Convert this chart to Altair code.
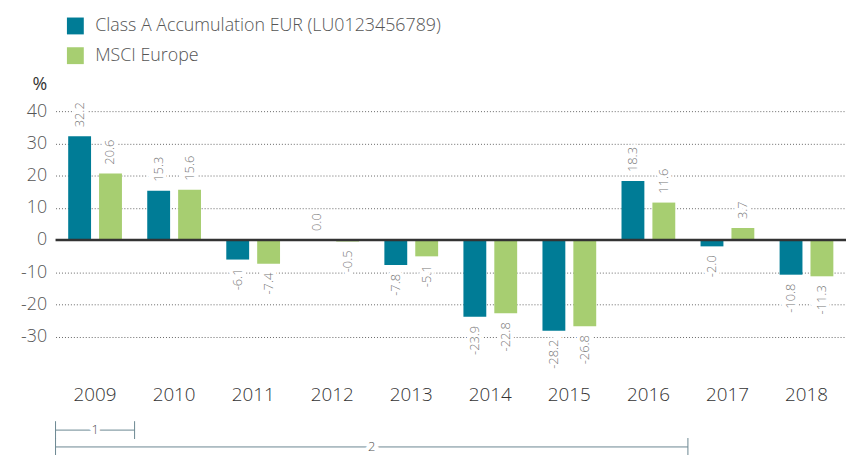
import altair as alt
import pandas as pd

FONT = "Open Sans"

years = ["2009", "2010", "2011", "2012", "2013", "2014", "2015", "2016", "2017", "2018"]
fund_name = "Class A Accumulation EUR (LU0123456789)"
index_name = "MSCI Europe"
fund_values = [32.2, 15.3, -6.1, 0.0, -7.8, -23.9, -28.2, 18.3, -2.0, -10.8]
index_values = [20.6, 15.6, -7.4, -0.5, -5.1, -22.8, -26.8, 11.6, 3.7, -11.3]
y_ticks = [-30, -20, -10, 0, 10, 20, 30, 40]

bracket_labels = ["1", "2"]
bracket_start = ["2009", "2009"]
bracket_end = ["2009", "2016"]

rows = []
for yr, f, i in zip(years, fund_values, index_values):
    rows.append({"year": yr, "series": fund_name, "value": f, "lbl": f"{f:.1f}"})
    rows.append({"year": yr, "series": index_name, "value": i, "lbl": f"{i:.1f}"})
df = pd.DataFrame(rows)

br = pd.DataFrame({"label": bracket_labels, "start": bracket_start, "end": bracket_end})

series_order = [fund_name, index_name]

x_enc = alt.X(
    "year:N",
    sort=years,
    scale=alt.Scale(domain=years, paddingInner=0.32, paddingOuter=0.16),
    axis=alt.Axis(
        title=None, labelAngle=0, domain=False, ticks=False, grid=False,
        labelFontSize=19, labelColor="#333", labelPadding=17, labelFont=FONT, labelFontWeight=300,
    ),
)
xoff_enc = alt.XOffset("series:N", sort=series_order,
                       scale=alt.Scale(domain=series_order, paddingInner=0.26, paddingOuter=0))
y_enc = alt.Y(
    "value:Q",
    scale=alt.Scale(domain=[-40, 40], nice=False),
    axis=alt.Axis(
        values=y_ticks, title="%", titleAngle=0, titleAlign="right", titleBaseline="middle",
        titleX=-9, titleY=-27, titleFontSize=18, titleFontWeight="normal", titleColor="#333",
        titleFont=FONT, domain=False, ticks=False, labelFontSize=18, labelColor="#555",
        labelFont=FONT, labelFontWeight=300, labelPadding=9, labelOverlap=False,
        labelExpr="toString(datum.value)",
        grid=True, gridColor="#666", gridDash=[1, 2], gridWidth=1, gridOpacity=1,
    ),
)

base = alt.Chart(df)

bars = base.mark_bar().encode(
    x=x_enc,
    xOffset=xoff_enc,
    y=y_enc,
    color=alt.Color(
        "series:N",
        sort=series_order,
        scale=alt.Scale(domain=series_order, range=["#007C96", "#A7CE71"]),
        legend=alt.Legend(
            title=None, orient="none", legendX=11, legendY=-95, symbolType="square",
            symbolSize=290, symbolStrokeWidth=0, symbolOpacity=1, labelFontSize=18,
            labelColor="#555", labelFont=FONT, labelFontWeight=300, rowPadding=12,
            labelOffset=11, labelLimit=600,
        ),
    ),
)


def labels(pos, halo):
    style = dict(angle=270, baseline="middle", fontSize=13, font=FONT, fontWeight=300)
    if pos:
        style.update(align="left", dx=9)
    else:
        style.update(align="right", dx=-9)
    if halo:
        style.update(color="white", stroke="white", strokeWidth=7)
    else:
        style.update(color="#777")
    flt = "datum.value >= 0" if pos else "datum.value < 0"
    return base.transform_filter(flt).mark_text(**style).encode(
        x=x_enc, xOffset=xoff_enc, y=y_enc,
        text=alt.Text("lbl:N"),
    )


zero = alt.Chart(pd.DataFrame({"value": [0]})).mark_rule(color="#333", strokeWidth=2.5).encode(
    y=y_enc
)

main = alt.layer(
    bars, labels(True, True), labels(False, True), zero, labels(True, False), labels(False, False)
)

# ---- period brackets below the axis ----
AX_SCALE = alt.Scale(domain=[2008.5, 2018.5], nice=False, zero=False)
ann_color = "#6a8791"
row_y = [322, 339]   # pixel rows of the brackets, below the plot area
tick_half = 9

ann_layers = []
for lab, yy in zip(bracket_labels, row_y):
    b = alt.Chart(br).transform_filter(f"datum.label == '{lab}'").transform_calculate(
        s="toNumber(datum.start) - 0.5", e="toNumber(datum.end) + 0.5",
        m="(toNumber(datum.start) + toNumber(datum.end)) / 2",
    )
    ann_layers.append(b.mark_rule(color=ann_color, strokeWidth=1).encode(
        x=alt.X("s:Q", scale=AX_SCALE, axis=None), x2="e:Q", y=alt.value(yy)))
    ann_layers.append(b.transform_fold(["s", "e"], as_=["k", "edge"]).mark_rule(
        color=ann_color, strokeWidth=1).encode(
        x=alt.X("edge:Q", scale=AX_SCALE, axis=None),
        y=alt.value(yy - tick_half), y2=alt.value(yy + tick_half)))
    ann_layers.append(b.mark_text(color="white", stroke="white", strokeWidth=8, fontSize=13,
                                  font=FONT, fontWeight=300).encode(
        x=alt.X("m:Q", scale=AX_SCALE, axis=None), y=alt.value(yy), text="label:N"))
    ann_layers.append(b.mark_text(color="#555", fontSize=13, font=FONT, fontWeight=300).encode(
        x=alt.X("m:Q", scale=AX_SCALE, axis=None), y=alt.value(yy), text="label:N"))

ann = alt.layer(*ann_layers)

chart = alt.layer(main, ann).resolve_scale(x="independent").properties(
    width=798, height=260,
    autosize=alt.AutoSizeParams(type="none"),
    padding={"left": 48, "top": 102, "right": 0, "bottom": 85},
).configure_view(stroke=None)

chart.save("out.html", embed_options={"renderer": "svg", "actions": False})
